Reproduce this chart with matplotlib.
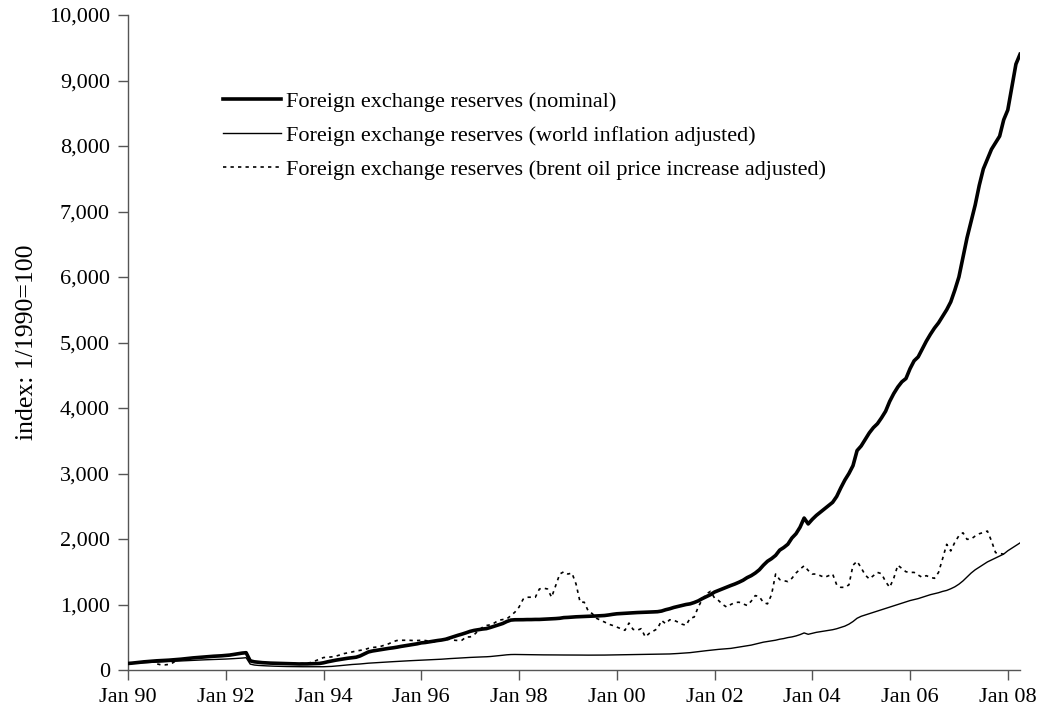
import numpy as np
import matplotlib
matplotlib.use("Agg")
import matplotlib.pyplot as plt
from matplotlib.ticker import FuncFormatter

# monthly index values, Jan 1990 .. Apr 2008 (1/1990 = 100)
nominal = (
    [100, 105, 112, 118, 125, 130, 135, 140, 143, 147, 150, 155] +      # 1990
    [160, 165, 172, 180, 185, 190, 195, 200, 205, 210, 213, 217] +      # 1991
    [222, 228, 238, 248, 258, 264, 140, 125, 118, 112, 108, 105] +      # 1992
    [103, 101, 99, 97, 95, 93, 92, 92, 93, 95, 97, 100] +               # 1993
    [110, 125, 138, 150, 160, 170, 180, 187, 195, 215, 245, 275] +      # 1994
    [290, 300, 310, 320, 330, 338, 348, 360, 370, 379, 390, 400] +      # 1995
    [414, 420, 430, 440, 450, 458, 470, 490, 510, 530, 548, 568] +      # 1996
    [590, 605, 615, 625, 632, 650, 670, 690, 710, 740, 762, 767] +      # 1997
    [767, 768, 770, 770, 772, 772, 775, 778, 780, 785, 790, 800] +      # 1998
    [803, 808, 812, 815, 818, 820, 822, 825, 828, 832, 840, 850] +      # 1999
    [858, 862, 866, 870, 874, 877, 880, 882, 884, 887, 890, 900] +      # 2000
    [920, 935, 955, 970, 985, 1000, 1010, 1030, 1055, 1090, 1120, 1150] +   # 2001
    [1190, 1215, 1240, 1265, 1290, 1313, 1340, 1370, 1410, 1440, 1480, 1530] +  # 2002
    [1600, 1660, 1700, 1750, 1830, 1870, 1920, 2015, 2080, 2180, 2320, 2230] +  # 2003
    [2300, 2360, 2410, 2460, 2510, 2560, 2650, 2780, 2900, 3000, 3120, 3350] +  # 2004
    [3420, 3520, 3620, 3700, 3760, 3850, 3950, 4100, 4220, 4320, 4400, 4450] +  # 2005
    [4600, 4720, 4780, 4900, 5020, 5125, 5220, 5300, 5400, 5500, 5620, 5800] +  # 2006
    [6000, 6300, 6600, 6850, 7100, 7400, 7650, 7800, 7950, 8050, 8150, 8400] +  # 2007
    [8550, 8900, 9250, 9400]                                                   # 2008
)

world_infl = (
    [100, 103, 107, 110, 113, 115, 118, 121, 124, 127, 130, 133] +
    [136, 139, 142, 145, 148, 150, 153, 156, 158, 161, 163, 165] +
    [167, 170, 174, 178, 182, 188, 90, 76, 70, 66, 63, 60] +
    [58, 56, 54, 53, 52, 51, 50, 50, 50, 50, 50, 50] +
    [50, 52, 55, 60, 66, 72, 78, 84, 88, 92, 98, 104] +
    [108, 112, 116, 120, 124, 127, 130, 134, 138, 141, 144, 147] +
    [150, 152, 155, 158, 161, 165, 170, 174, 177, 181, 185, 189] +
    [192, 195, 198, 200, 202, 206, 212, 218, 225, 232, 236, 237] +
    [236, 235, 234, 233, 232, 232, 231, 231, 230, 230, 229, 229] +
    [229, 228, 228, 228, 227, 227, 227, 227, 228, 228, 229, 230] +
    [231, 232, 233, 234, 235, 236, 237, 238, 239, 240, 240, 241] +
    [242, 245, 248, 252, 256, 260, 265, 272, 280, 288, 295, 302] +
    [310, 315, 320, 325, 330, 340, 350, 360, 370, 380, 395, 410] +
    [425, 435, 445, 455, 470, 480, 495, 505, 520, 540, 566, 545] +
    [560, 575, 585, 595, 605, 615, 630, 650, 670, 700, 740, 790] +
    [820, 840, 860, 880, 900, 920, 940, 960, 980, 1000, 1020, 1040] +
    [1060, 1075, 1090, 1110, 1130, 1150, 1165, 1180, 1200, 1215, 1240, 1270] +
    [1310, 1360, 1420, 1480, 1530, 1570, 1610, 1650, 1680, 1710, 1740, 1770] +
    [1820, 1860, 1900, 1940]
)

oil_adj = (
    [100, 105, 115, 125, 130, 135, 130, 95, 80, 78, 85, 110] +
    [150, 160, 170, 180, 185, 190, 195, 200, 205, 210, 213, 220] +
    [225, 235, 245, 250, 262, 272, 150, 130, 120, 115, 112, 110] +
    [105, 104, 103, 102, 100, 100, 98, 100, 105, 115, 140, 165] +
    [190, 195, 200, 210, 230, 250, 262, 275, 290, 300, 310, 330] +
    [343, 350, 360, 380, 400, 430, 450, 454, 454, 454, 450, 450] +
    [454, 450, 440, 430, 440, 455, 460, 470, 455, 450, 455, 505] +
    [505, 540, 600, 650, 680, 690, 720, 760, 770, 780, 830, 884] +
    [960, 1080, 1111, 1111, 1111, 1237, 1250, 1237, 1111, 1288, 1465, 1500] +
    [1465, 1480, 1313, 1035, 1035, 900, 860, 790, 760, 732, 700, 680] +
    [656, 630, 606, 717, 620, 606, 631, 505, 560, 596, 631, 757] +
    [707, 767, 760, 732, 700, 682, 790, 808, 960, 1080, 1162, 1200] +
    [1100, 1060, 1000, 960, 1000, 1030, 1035, 1010, 985, 1050, 1136, 1120] +
    [1030, 1010, 1150, 1465, 1380, 1364, 1350, 1400, 1480, 1540, 1591, 1520] +
    [1465, 1465, 1440, 1414, 1440, 1465, 1300, 1262, 1262, 1300, 1600, 1660] +
    [1560, 1450, 1390, 1440, 1490, 1470, 1350, 1262, 1400, 1600, 1550, 1500] +
    [1490, 1490, 1450, 1414, 1440, 1414, 1400, 1490, 1700, 1919, 1818, 1950] +
    [2050, 2095, 1995, 2000, 2045, 2080, 2100, 2121, 1970, 1792, 1780, 1768]
)

labels = ['Foreign exchange reserves (nominal)',
          'Foreign exchange reserves (world inflation adjusted)',
          'Foreign exchange reserves (brent oil price increase adjusted)']
tick_labels = ['Jan %02d' % (y % 100) for y in range(1990, 2009, 2)]

months = np.arange(len(nominal))

plt.rcParams['font.family'] = ['Liberation Serif', 'DejaVu Serif']
plt.rcParams['font.size'] = 16

dpi = 100
fig = plt.figure(figsize=(1050 / dpi, 727 / dpi), dpi=dpi)
ax = fig.add_axes([128 / 1050, 57 / 727, 892 / 1050, 655 / 727])

ax.plot(months, nominal, color='black', lw=2.6, label=labels[0], zorder=3)
ax.plot(months, world_infl, color='black', lw=1.0, label=labels[1], zorder=2)
ax.plot(np.arange(len(oil_adj)), oil_adj, color='black', lw=1.2,
        linestyle=(0, (2, 2.5)), label=labels[2], zorder=2)

ax.set_xlim(0, len(nominal) - 1)
ax.set_ylim(0, 10000)
ax.set_yticks(np.arange(0, 10001, 1000))
ax.yaxis.set_major_formatter(FuncFormatter(lambda v, p: '{:,.0f}'.format(v)))
ax.set_xticks(np.arange(0, len(nominal), 24))
ax.set_xticklabels(tick_labels)
ax.tick_params(direction='out', length=7, width=1, color='#555555', pad=6)

for s in ['top', 'right']:
    ax.spines[s].set_visible(False)
for s in ['left', 'bottom']:
    ax.spines[s].set_color('#555555')
    ax.spines[s].set_linewidth(1)

ax.set_ylabel('index: 1/1990=100', fontsize=18.5, labelpad=8)

ax.legend(loc='upper left', bbox_to_anchor=(0.107, 0.884), frameon=False,
          handlelength=2.6, handletextpad=0.2, labelspacing=0.62,
          borderpad=0, borderaxespad=0)

fig.savefig('out.png', dpi=dpi)
